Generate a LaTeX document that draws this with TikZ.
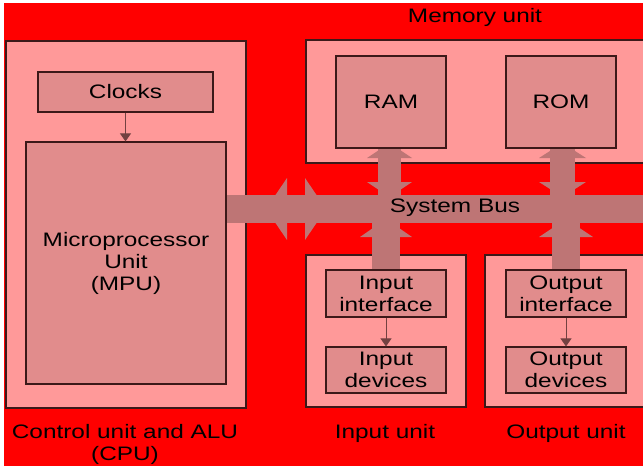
\documentclass[tikz,border=0pt]{standalone}
\usepackage{fontspec}
\setmainfont{Liberation Sans}[FakeStretch=1.25]
\usetikzlibrary{arrows.meta}
\definecolor{bgred}{RGB}{255,0,0}
\definecolor{unitpink}{RGB}{255,153,153}
\definecolor{boxpink}{RGB}{225,140,140}
\definecolor{buscol}{RGB}{190,117,117}
\definecolor{edgecol}{RGB}{60,25,25}
\definecolor{thinarr}{RGB}{115,65,65}
\begin{document}
\begin{tikzpicture}[x=1pt,y=-1pt,
  font=\fontsize{19.5}{22}\selectfont,
  unit/.style={draw=edgecol, fill=unitpink, line width=1.2pt, inner sep=0pt, rectangle},
  inbox/.style={draw=edgecol, fill=boxpink, line width=1.2pt, inner sep=0pt, align=center, rectangle},
  lbl/.style={inner sep=0pt, align=center, text=black},
  link/.style={draw=thinarr, line width=1pt, -{Triangle[length=8pt,width=11pt]}},
  busfill/.style={fill=buscol}]
\useasboundingbox (0,0) rectangle (643,466);
\fill[white] (0,0) rectangle (643,466);
\fill[bgred] (4,3) rectangle (643,466);
% units
\node[unit, minimum width=240pt, minimum height=367pt] (cpu) at (126,224.5) {};
\node[unit, minimum width=342pt, minimum height=123pt] (mem) at (477,101.5) {};
\node[unit, minimum width=160pt, minimum height=152pt] (inu) at (386,331) {};
\node[unit, minimum width=163pt, minimum height=152pt] (outu) at (566.5,331) {};
% system bus
\fill[busfill] (226,195) rectangle (648,223);
\fill[busfill] (287,178) -- (266,209) -- (287,240) -- cycle;
\fill[busfill] (305,178) -- (326,209) -- (305,240) -- cycle;
% RAM link
\fill[busfill] (378,146) rectangle (401,196);
\fill[busfill] (367,158) -- (389.5,143) -- (412,158) -- cycle;
\fill[busfill] (367,182) -- (389.5,197) -- (412,182) -- cycle;
% ROM link
\fill[busfill] (550,146) rectangle (575,196);
\fill[busfill] (539,158) -- (562.5,143) -- (586,158) -- cycle;
\fill[busfill] (539,182) -- (562.5,197) -- (586,182) -- cycle;
% Input link
\fill[busfill] (372,222) rectangle (400,271);
\fill[busfill] (360,237) -- (386,219) -- (412,237) -- cycle;
% Output link
\fill[busfill] (552,222) rectangle (580,271);
\fill[busfill] (539,237) -- (566,219) -- (593,237) -- cycle;
% inner boxes
\node[inbox, minimum width=200pt, minimum height=242pt] (mpu) at (126,263) {Microprocessor\\Unit\\(MPU)};
\node[inbox, minimum width=175pt, minimum height=40pt] (clk) at (125.5,92) {Clocks};
\node[inbox, minimum width=110pt, minimum height=92pt] (ram) at (391,102) {RAM};
\node[inbox, minimum width=110pt, minimum height=92pt] (rom) at (561,102) {ROM};
\node[inbox, minimum width=120pt, minimum height=47pt] (iint) at (386,293.5) {Input\\interface};
\node[inbox, minimum width=120pt, minimum height=46pt] (idev) at (386,370) {Input\\devices};
\node[inbox, minimum width=120pt, minimum height=47pt] (oint) at (566,293.5) {Output\\interface};
\node[inbox, minimum width=120pt, minimum height=46pt] (odev) at (566,370) {Output\\devices};
% thin arrows
\draw[link] (clk.south) -- (clk.south |- mpu.north);
\draw[link] (iint.south) -- (idev.north);
\draw[link] (oint.south) -- (odev.north);
% labels
\node[lbl] (lmem) at (475,17) {Memory unit};
\node[lbl] (lbus) at (455,208) {System Bus};
\node[lbl] (lcpu) at (125,444) {Control unit and ALU\\(CPU)};
\node[lbl] (linu) at (385,433) {Input unit};
\node[lbl] (loutu) at (566,433) {Output unit};
\end{tikzpicture}
\end{document}
